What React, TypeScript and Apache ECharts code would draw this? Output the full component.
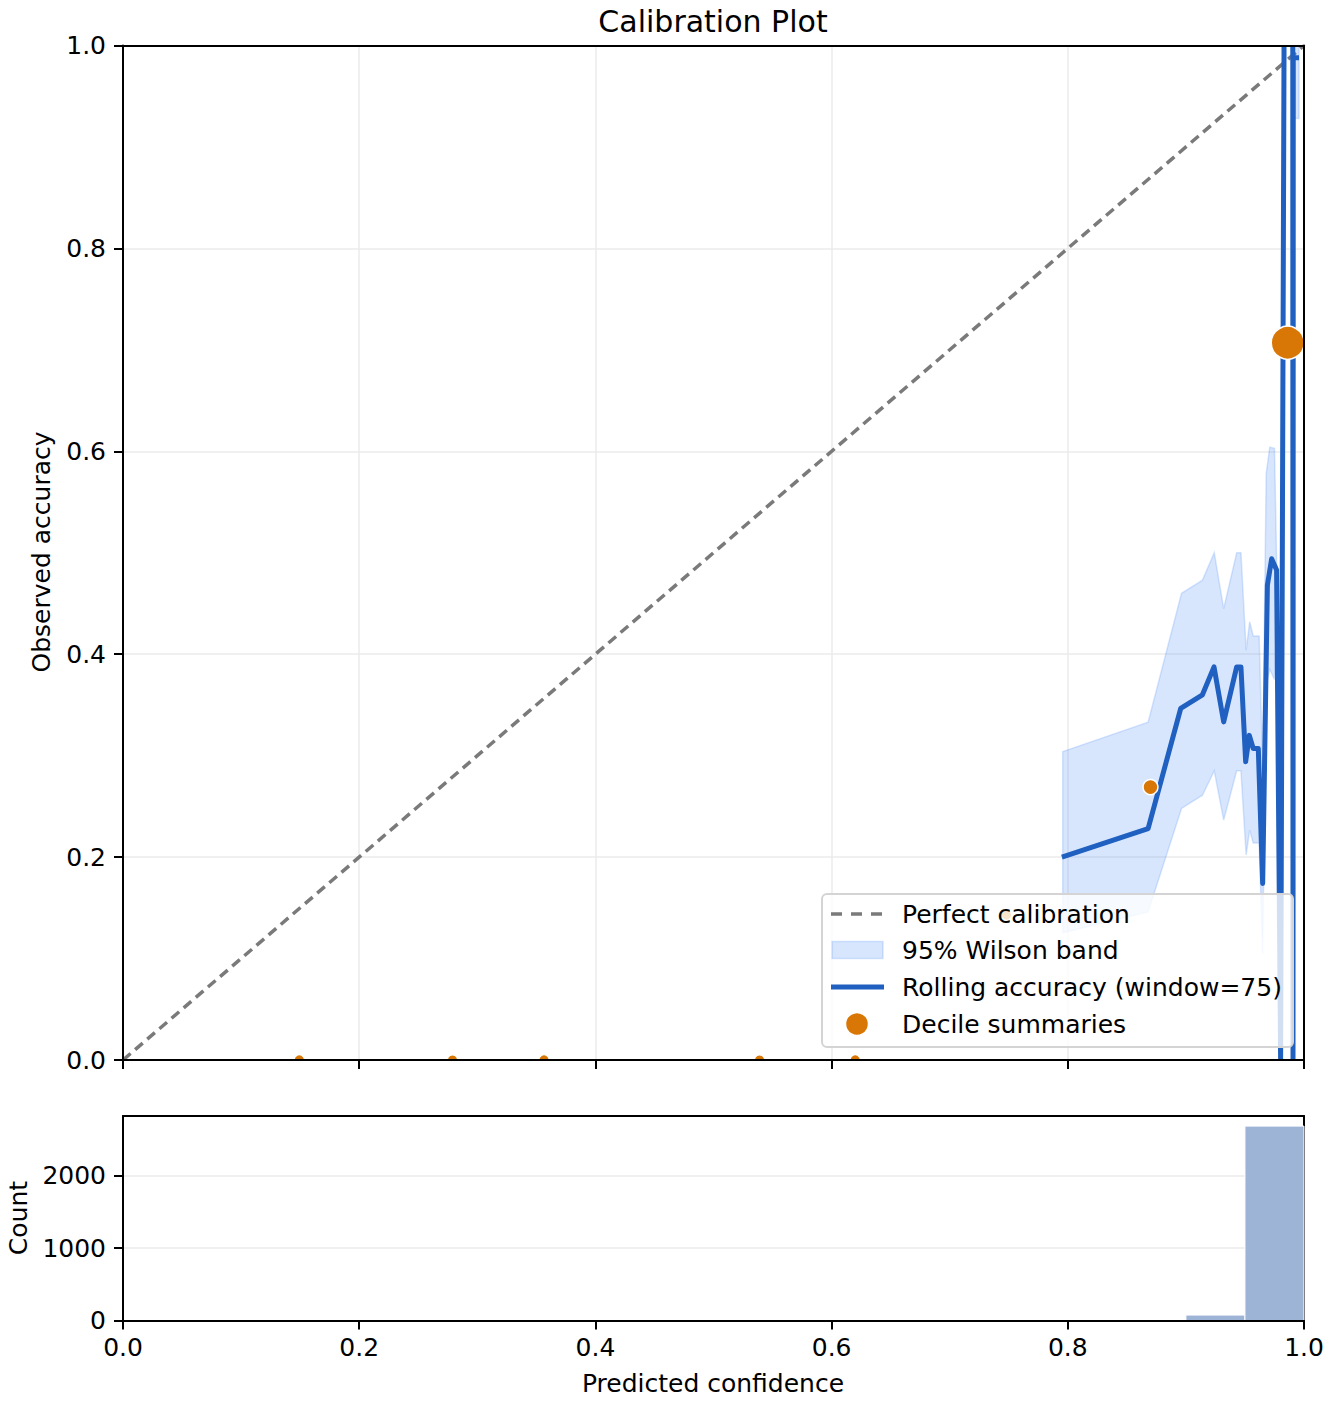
import React, { useEffect, useRef } from "react";
import * as echarts from "echarts";

// ---------- data ----------
const diagX = [0, 1];
const diagY = [0, 1];

// null = break in the line (the run that leaves the top of the axes)
const rollX = [0.795, 0.868, 0.8956, 0.914, 0.9238, 0.932, 0.943, 0.9466, 0.9506, 0.9537, 0.957, 0.9613, 0.965, 0.969, 0.9726, 0.9768, 0.9802, 0.9831, 0.987, 0.9905, 0.9907, 0.9909, 0.9958];
const rollY: (number | null)[] = [0.2, 0.228, 0.3465, 0.36, 0.3875, 0.3333, 0.3875, 0.3875, 0.294, 0.32, 0.307, 0.307, 0.174, 0.468, 0.494, 0.483, 0.0, 1.0, null, 1.0, 0.0, 0.988, 0.988];

const bandX = [0.7957, 0.868, 0.8963, 0.914, 0.924, 0.932, 0.943, 0.9466, 0.951, 0.954, 0.957, 0.962, 0.965, 0.968, 0.971, 0.975, 0.9775];
const bandLo = [0.1255, 0.146, 0.248, 0.261, 0.285, 0.2365, 0.285, 0.285, 0.202, 0.2266, 0.214, 0.214, 0.105, 0.37, 0.385, 0.375, 0.45];
const bandHi = [0.304, 0.333, 0.46, 0.473, 0.5, 0.445, 0.5, 0.5, 0.404, 0.432, 0.418, 0.418, 0.29, 0.578, 0.604, 0.603, 0.45];
const tailX = [0.9907, 0.9958];
const tailLo = [0.928, 0.928];
const tailHi = [1.0, 1.0];

const decileX = [0.1493, 0.279, 0.3565, 0.539, 0.62, 0.748, 0.87, 0.9862];
const decileY = [0, 0, 0, 0, 0, 0.143, 0.269, 0.707];
const decileCount = [3, 2, 3, 2, 3, 4, 120, 2600];

const histStart = [0.9, 0.95];
const histEnd = [0.95, 1.0];
const histCount = [75, 2690];

const countTicks = [0, 1000, 2000];

const legendItems = [
  "Perfect calibration",
  "95% Wilson band",
  "Rolling accuracy (window=75)",
  "Decile summaries",
];

// ---------- style ----------
const FONT = "DejaVu Sans";
const FS = 25;
const LINE_BLUE = "#2060c0";
const ORANGE = "#d97706";
const BAND_FILL = "rgba(59,130,246,0.2)";
const DIAG = "#7a7a7a";
const GRIDC = "#ebebeb";

const G1 = { left: 123, top: 45.5, width: 1181, height: 1014.5 };
const G2 = { left: 123, top: 1116, width: 1181, height: 204.5 };

export default function App() {
  const ref = useRef<HTMLDivElement>(null);
  useEffect(() => {
    document.body.style.margin = "0";
    const chart = echarts.init(ref.current!, null, { renderer: "svg" });

    const spine = { show: true, onZero: false, lineStyle: { color: "#000", width: 2 } };
    const tick = { show: true, length: 9, lineStyle: { color: "#000", width: 2 } };
    const label = { color: "#000", fontSize: FS, fontFamily: FONT };
    const grid = { show: true, showMinLine: false, showMaxLine: false, lineStyle: { color: GRIDC, width: 1.5 } };
    const off = { show: false };

    const bandPoly = (api: any, xs: number[], lo: number[], hi: number[]) => {
      const pts: number[][] = [];
      for (let i = 0; i < xs.length; i++) pts.push(api.coord([xs[i], hi[i]]));
      for (let i = xs.length - 1; i >= 0; i--) pts.push(api.coord([xs[i], lo[i]]));
      return {
        type: "polygon",
        shape: { points: pts },
        style: { fill: BAND_FILL, stroke: BAND_FILL, lineWidth: 1.5 },
      };
    };

    const LX = 822, LY = 894, LW = 471, LH = 153;
    const legendY = [914, 950, 987, 1024];
    const txt = (t: string, x: number, y: number) => ({
      type: "text", x, y,
      style: { text: t, font: `${FS}px '${FONT}'`, fill: "#000", align: "left", verticalAlign: "middle" },
    });

    const legendGroup = () => ({
      type: "group",
      children: [
        { type: "rect", shape: { x: LX, y: LY, width: LW, height: LH, r: 5 }, style: { fill: "rgba(255,255,255,0.8)", stroke: "#d4d4d4", lineWidth: 2 } },
        { type: "line", shape: { x1: 831, y1: legendY[0], x2: 883, y2: legendY[0] }, style: { stroke: DIAG, lineWidth: 3.5, lineDash: [11, 9] } },
        { type: "rect", shape: { x: 832, y: legendY[1] - 8.5, width: 51, height: 17 }, style: { fill: BAND_FILL, stroke: BAND_FILL, lineWidth: 1.5 } },
        { type: "line", shape: { x1: 831, y1: legendY[2], x2: 884, y2: legendY[2] }, style: { stroke: LINE_BLUE, lineWidth: 5 } },
        { type: "circle", shape: { cx: 857, cy: legendY[3], r: 11.5 }, style: { fill: ORANGE, stroke: "#fff", lineWidth: 1.5 } },
        ...legendItems.map((t, i) => txt(t, 902, legendY[i])),
      ],
    });

    const option: any = {
      animation: false,
      backgroundColor: "#fff",
      grid: [
        { ...G1, containLabel: false },
        { ...G2, containLabel: false },
      ],
      xAxis: [
        { type: "value", gridIndex: 0, min: 0, max: 1, interval: 0.2, z: 100,
          axisLine: spine, axisTick: tick, axisLabel: off, splitLine: off },
        { type: "value", gridIndex: 0, min: 0, max: 1, interval: 0.2, position: "top", z: 0,
          axisLine: off, axisTick: off, axisLabel: off, splitLine: grid },
        { type: "value", gridIndex: 1, min: 0, max: 1, interval: 0.2, z: 100,
          axisLine: spine, axisTick: tick,
          axisLabel: { ...label, margin: 14, formatter: (v: number) => v.toFixed(1) },
          splitLine: off },
        { type: "value", gridIndex: 1, min: 0, max: 1, position: "top", z: 100,
          axisLine: spine, axisTick: off, axisLabel: off, splitLine: off },
        { type: "value", gridIndex: 0, min: 0, max: 1, position: "top", z: 100,
          axisLine: spine, axisTick: off, axisLabel: off, splitLine: off },
      ],
      yAxis: [
        { type: "value", gridIndex: 0, min: 0, max: 1, interval: 0.2, z: 100,
          axisLine: spine, axisTick: tick,
          axisLabel: { ...label, margin: 17, formatter: (v: number) => v.toFixed(1) },
          splitLine: off },
        { type: "value", gridIndex: 0, min: 0, max: 1, interval: 0.2, position: "right", z: 1,
          axisLine: off, axisTick: off, axisLabel: off, splitLine: grid },
        { type: "value", gridIndex: 1, min: 0, max: 2830, interval: 1000, z: 100,
          axisLine: spine,
          axisTick: { ...tick, customValues: countTicks },
          axisLabel: { ...label, margin: 17, customValues: countTicks, formatter: (v: number) => String(Math.round(v)) },
          splitLine: off },
        { type: "value", gridIndex: 1, min: 0, max: 2830, interval: 1000, position: "right", z: 1,
          axisLine: spine, axisTick: off, axisLabel: off, splitLine: grid },
        { type: "value", gridIndex: 0, min: 0, max: 1, position: "right", z: 100,
          axisLine: spine, axisTick: off, axisLabel: off, splitLine: off },
      ],
      series: [
        {
          type: "line", name: "Perfect calibration", xAxisIndex: 0, yAxisIndex: 0, z: 2,
          data: diagX.map((x, i) => [x, diagY[i]]),
          showSymbol: false, symbol: "none",
          lineStyle: { color: DIAG, width: 3.5, type: [10, 6] },
        },
        {
          type: "custom", name: "95% Wilson band", xAxisIndex: 0, yAxisIndex: 0, z: 3,
          data: [[0.9, 0.5]],
          renderItem: (_p: any, api: any) => ({
            type: "group",
            children: [bandPoly(api, bandX, bandLo, bandHi), bandPoly(api, tailX, tailLo, tailHi)],
          }),
        },
        {
          type: "custom", name: "Rolling accuracy (window=75)", xAxisIndex: 0, yAxisIndex: 0, z: 4,
          data: [[0.9, 0.5]],
          renderItem: (_p: any, api: any) => {
            const segs: number[][][] = [];
            let cur: number[][] = [];
            for (let i = 0; i < rollX.length; i++) {
              const y = rollY[i];
              if (y === null) { if (cur.length) segs.push(cur); cur = []; }
              else cur.push(api.coord([rollX[i], y]));
            }
            if (cur.length) segs.push(cur);
            return {
              type: "group",
              children: segs.map((pts) => ({
                type: "polyline",
                shape: { points: pts },
                style: { stroke: LINE_BLUE, lineWidth: 5, lineJoin: "round", lineCap: "butt", fill: "none" },
              })),
            };
          },
        },
        {
          type: "scatter", name: "Decile summaries", xAxisIndex: 0, yAxisIndex: 0, z: 5, clip: false,
          data: decileX.map((x, i) => [x, decileY[i], decileCount[i]]),
          symbolSize: (v: number[]) => 10 + Math.sqrt(v[2]) * 0.45,
          itemStyle: { color: ORANGE, borderColor: "#fff", borderWidth: 1.5, opacity: 1 },
        },
        {
          type: "custom", name: "Count", xAxisIndex: 2, yAxisIndex: 2, z: 3,
          data: histStart.map((s, i) => [s, histEnd[i], histCount[i]]),
          encode: { x: [0, 1], y: 2 },
          renderItem: (_p: any, api: any) => {
            const p0 = api.coord([api.value(0), 0]);
            const p1 = api.coord([api.value(1), api.value(2)]);
            return {
              type: "rect",
              shape: { x: p0[0], y: p1[1], width: p1[0] - p0[0], height: p0[1] - p1[1] },
              style: { fill: "#9db4d6", stroke: "#ffffff", lineWidth: 1 },
            };
          },
        },
        // masks outside the axes (matplotlib clips data to the axes box)
        {
          type: "custom", name: "mask", xAxisIndex: 0, yAxisIndex: 0, z: 15, silent: true,
          data: [[0.5, 0.5]],
          renderItem: (_p: any, api: any) => {
            const a = api.coord([0, 0]);
            const b = api.coord([1, 1]);
            return {
              type: "group",
              children: [
                { type: "rect", shape: { x: a[0] - 2, y: a[1] + 1, width: b[0] - a[0] + 4, height: 50 }, style: { fill: "#fff" } },
                { type: "rect", shape: { x: a[0] - 2, y: b[1] - 20, width: b[0] - a[0] + 4, height: 19 }, style: { fill: "#fff" } },
              ],
            };
          },
        },
        {
          type: "custom", name: "legend", xAxisIndex: 0, yAxisIndex: 0, z: 20, silent: true,
          data: [[0.5, 0.5]],
          renderItem: () => legendGroup(),
        },
      ],
      graphic: [
        { type: "text", z: 200, x: 713, y: 21, style: { text: "Calibration Plot", font: `30px '${FONT}'`, fill: "#000", textAlign: "center", textVerticalAlign: "middle" } },
        { type: "text", x: 41, y: 552, rotation: Math.PI / 2, style: { text: "Observed accuracy", font: `${FS}px '${FONT}'`, fill: "#000", textAlign: "center", textVerticalAlign: "middle" } },
        { type: "text", x: 18, y: 1218, rotation: Math.PI / 2, style: { text: "Count", font: `${FS}px '${FONT}'`, fill: "#000", textAlign: "center", textVerticalAlign: "middle" } },
        { type: "text", x: 713, y: 1383, style: { text: "Predicted confidence", font: `${FS}px '${FONT}'`, fill: "#000", textAlign: "center", textVerticalAlign: "middle" } },
      ],
    };
    chart.setOption(option);
    return () => chart.dispose();
  }, []);
  return <div ref={ref} style={{ width: 1332, height: 1404 }} />;
}
